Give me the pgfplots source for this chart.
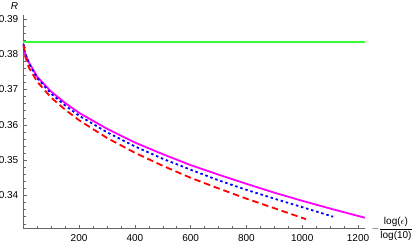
\documentclass[border=0pt]{standalone}
\usepackage{pgfplots}
\pgfplotsset{compat=1.18}
\usepackage{fontspec}
\setmainfont{Liberation Sans}
\definecolor{mmag}{RGB}{255,0,255}
\definecolor{mblue}{RGB}{0,0,255}
\definecolor{mred}{RGB}{255,0,0}
\definecolor{mgreen}{RGB}{51,255,51}
\begin{document}
\fontsize{10bp}{12bp}\selectfont
\begin{tikzpicture}
\path[use as bounding box] (-23.3bp,-19.3bp) rectangle (391.7bp,228.7bp);
\begin{axis}[
 scale only axis, width=341.7bp, height=213.7bp,
 xmin=0, xmax=1225, ymin=0.3306, ymax=0.3911,
 axis lines=left, axis line style={-, color=black!60, line width=0.6pt},
 tick align=inside, major tick length=4bp, minor tick length=2.5bp,
 every tick/.style={color=black!60, line width=0.5pt},
 xtick={200,400,600,800,1000,1200}, xticklabels={200,400,600,800,1000,1200},
 minor xtick={50,100,...,1200},
 ytick={0.34,0.35,0.36,0.37,0.38,0.39}, yticklabels={0.34,0.35,0.36,0.37,0.38,0.39},
 minor ytick={0.332,0.334,...,0.39},
 xticklabel style={font=\fontsize{10bp}{12bp}\selectfont, yshift=-2.5bp},
 yticklabel style={font=\fontsize{10bp}{12bp}\selectfont, xshift=-1.5bp},
 clip=false,
]
\addplot[color=mgreen, line width=1.5pt] coordinates {(0,0.3835) (1225,0.3835)};
\addplot[color=mmag, line width=1.8pt] coordinates {
(1,0.3828) (5,0.3806) (20,0.3777) (50,0.3736) (100,0.3694) (150,0.3662) (200,0.3634) (300,0.3589) (400,0.3550) (500,0.3517) (600,0.3486) (700,0.3459) (800,0.3433) (900,0.3408) (1000,0.3385) (1100,0.3363) (1225,0.3337)};
\addplot[color=mblue, line width=1.8pt, dash pattern=on 2.5bp off 2.8bp] coordinates {
(1,0.3828) (5,0.3805) (20,0.3774) (50,0.3732) (100,0.3688) (150,0.3655) (200,0.3626) (300,0.3579) (400,0.3539) (500,0.3504) (600,0.3473) (700,0.3443) (800,0.3416) (900,0.3391) (1000,0.3367) (1111,0.3340)};
\addplot[color=mred, line width=1.8pt, dash pattern=on 6.5bp off 3.8bp] coordinates {
(1,0.3826) (5,0.3798) (20,0.3762) (50,0.3722) (100,0.3677) (150,0.3643) (200,0.3613) (300,0.3563) (400,0.3521) (500,0.3484) (600,0.3450) (700,0.3420) (800,0.3391) (900,0.3364) (1013,0.3333)};
\end{axis}
\node at (-8.8bp,222.7bp) {\textit{R}};
\node[anchor=west, inner sep=0pt] at (348bp,0) {$-{\displaystyle\frac{\hbox{log(}\epsilon\hbox{)}}{\hbox{log(10)}}}$};
\end{tikzpicture}
\end{document}
